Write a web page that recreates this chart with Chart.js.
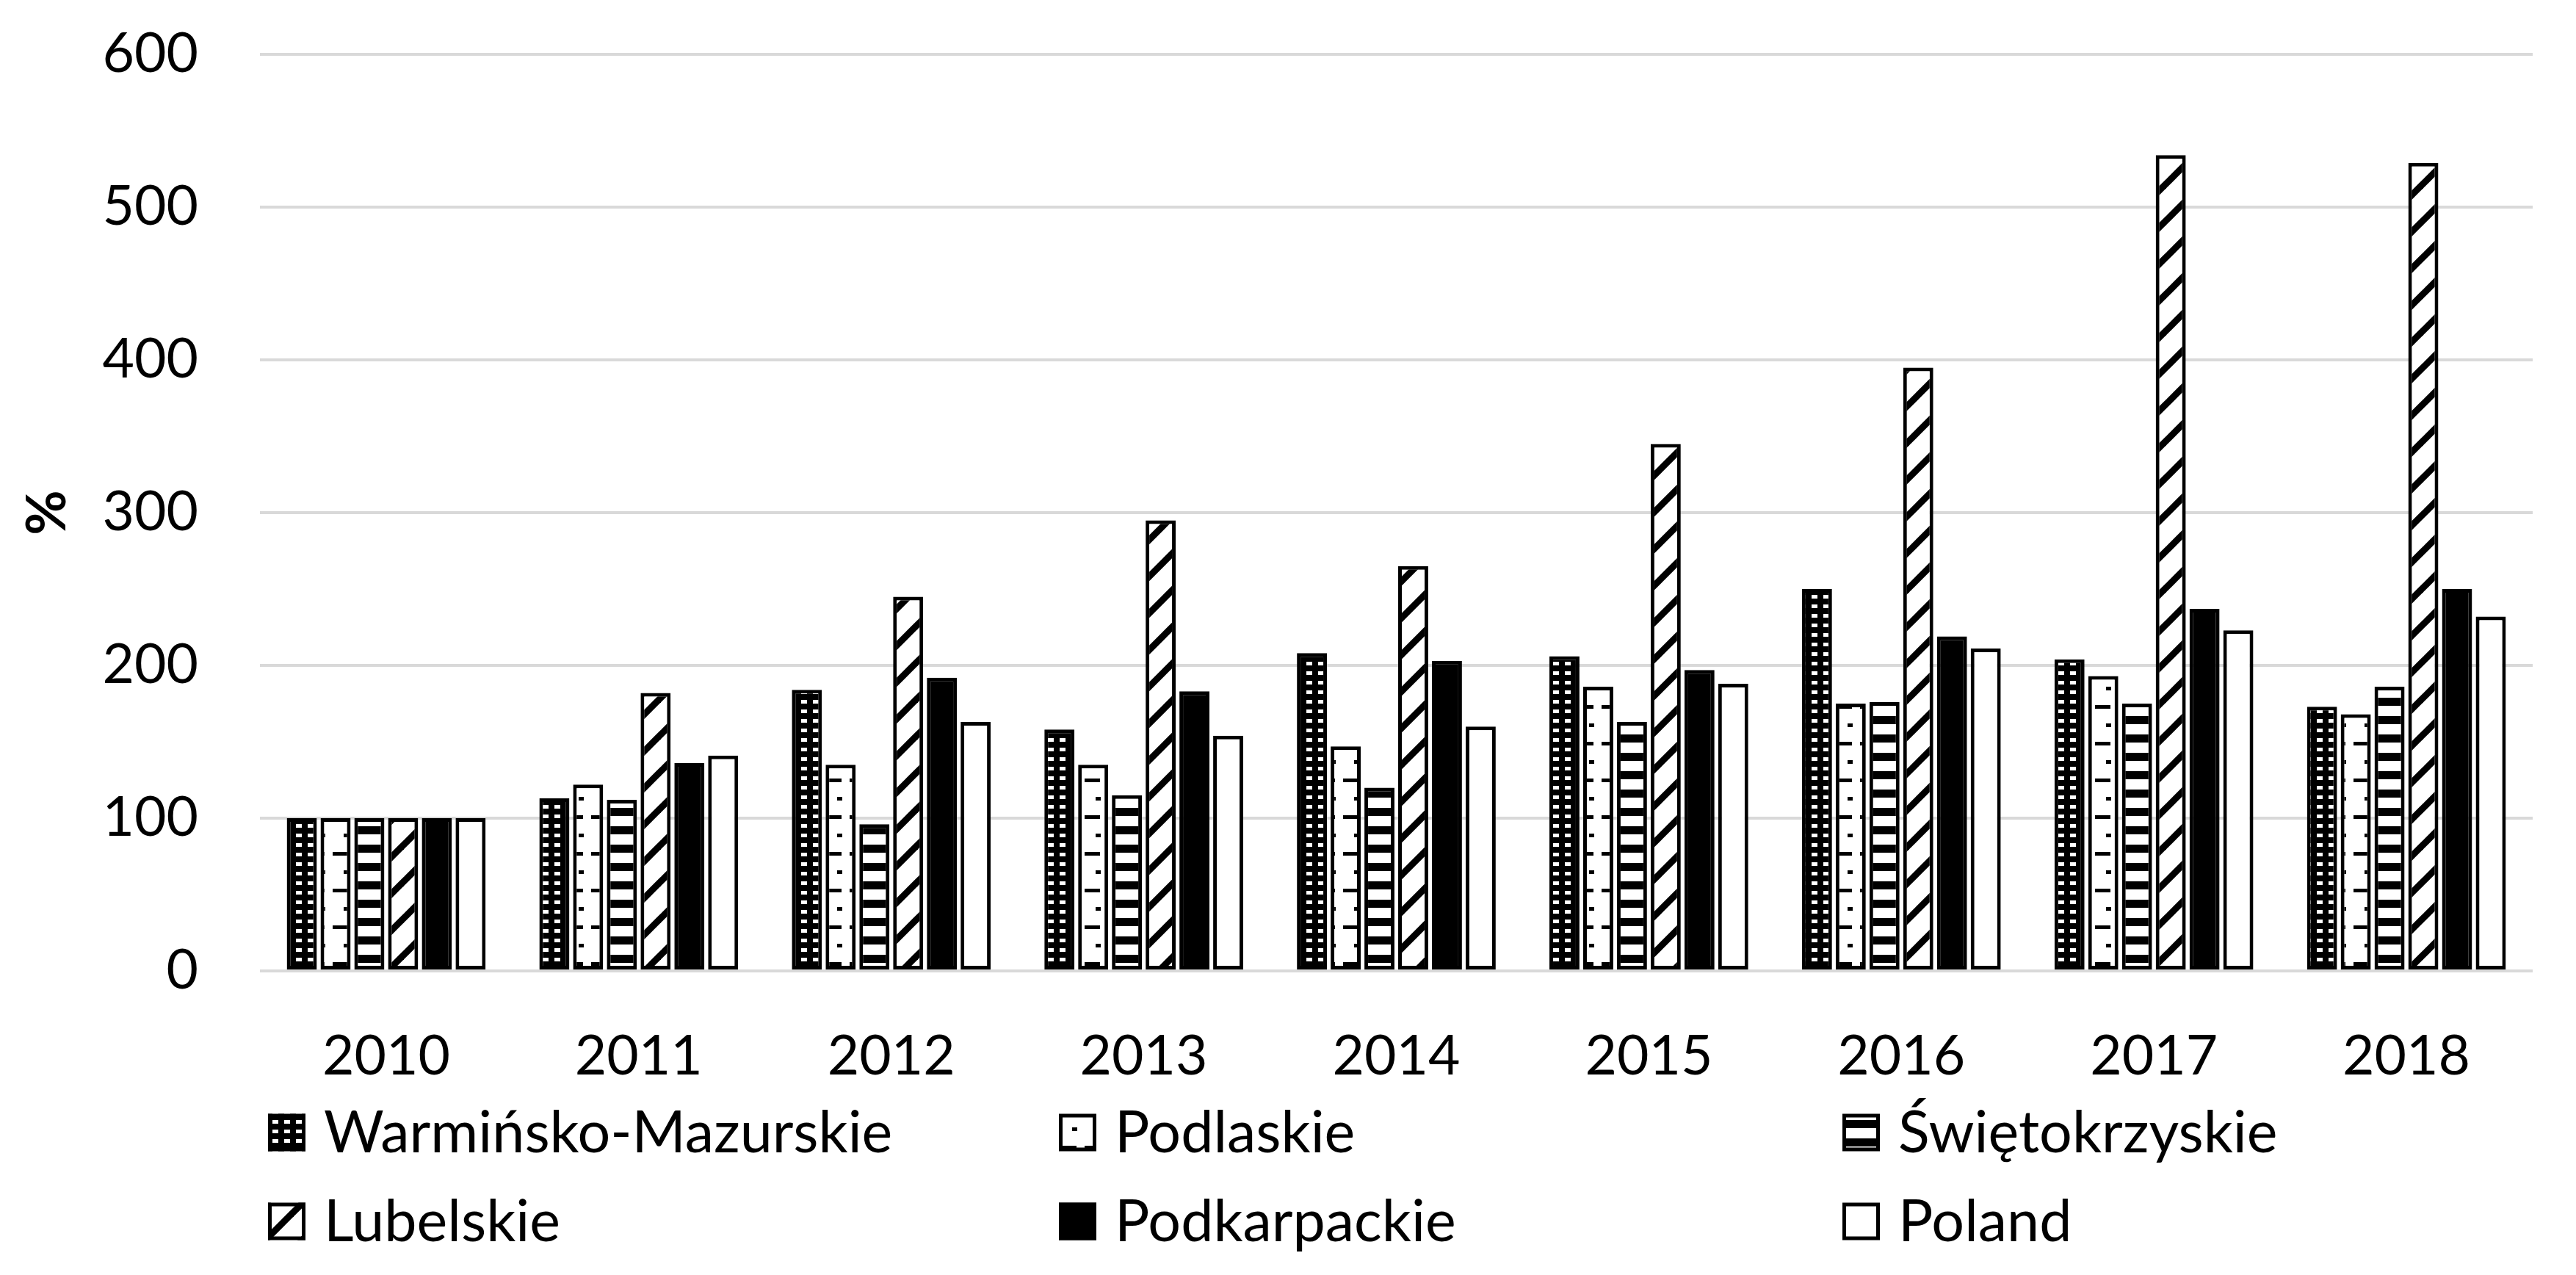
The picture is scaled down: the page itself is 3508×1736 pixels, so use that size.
<!DOCTYPE html>
<html>
<head>
<meta charset="utf-8">
<script src="https://cdn.jsdelivr.net/npm/chart.js@4"></script>
<style>
  html, body { margin: 0; padding: 0; background: #fff; }
  #wrap { width: 3508px; height: 1736px; }
</style>
</head>
<body>
<div id="wrap"><canvas id="chart"></canvas></div>
<script>
const years = ['2010', '2011', '2012', '2013', '2014', '2015', '2016', '2017', '2018'];
const yTicks = [0, 100, 200, 300, 400, 500, 600];

const warminsko = [100, 113, 184, 158, 208, 206, 250, 204, 173];
const podlaskie = [100, 122, 135, 135, 147, 186, 175, 193, 168];
const swietokrzyskie = [100, 112, 96, 115, 120, 163, 176, 175, 186];
const lubelskie = [100, 182, 245, 295, 265, 345, 395, 534, 529];
const podkarpackie = [100, 136, 192, 183, 203, 197, 219, 237, 250];
const poland = [100, 141, 163, 154, 160, 188, 211, 223, 232];

const FONT = 'Lato';

// small repeating tiles for the black & white fills
function tile(w, h, draw) {
    const c = document.createElement('canvas');
    c.width = w;
    c.height = h;
    const g = c.getContext('2d');
    draw(g, w, h);
    return g.createPattern(c, 'repeat');
}

const dotsFill = tile(16, 13, (g, w, h) => {
    g.fillStyle = '#000';
    g.fillRect(0, 0, w, h);
    g.fillStyle = '#fff';
    g.fillRect(3, 4, 8, 5);
});

const rulerFill = tile(32, 50, (g, w, h) => {
    g.fillStyle = '#fff';
    g.fillRect(0, 0, w, h);
    g.fillStyle = '#000';
    g.fillRect(5, 10, 21, 5);
    g.fillRect(20, 35, 7, 5);
});

const stripeFill = tile(4, 25, (g, w, h) => {
    g.fillStyle = '#fff';
    g.fillRect(0, 0, w, h);
    g.fillStyle = '#000';
    g.fillRect(0, 0, w, 11);
});

const diagFill = tile(50, 50, (g, w, h) => {
    g.fillStyle = '#fff';
    g.fillRect(0, 0, w, h);
    g.strokeStyle = '#000';
    g.lineWidth = 9;
    for (const o of [-50, 0, 50]) {
        g.beginPath();
        g.moveTo(o - 5, h + 5);
        g.lineTo(o + w + 5, -5);
        g.stroke();
    }
});

// legend laid out as a 3-column grid under the axis
const gridLegend = {
    id: 'gridLegend',
    afterDraw(chart, args, opts) {
        const ctx = chart.ctx;
        const top = chart.scales.x.bottom;
        ctx.save();
        ctx.font = opts.size + 'px ' + FONT;
        ctx.textBaseline = 'alphabetic';
        chart.data.datasets.forEach((ds, i) => {
            const x = opts.cols[i % 3];
            const y = top + opts.rows[Math.floor(i / 3)];
            const s = opts.box;
            ctx.fillStyle = ds.backgroundColor;
            ctx.fillRect(x, y - s / 2, s, s);
            ctx.lineWidth = 5;
            ctx.strokeStyle = '#000';
            ctx.strokeRect(x + 2.5, y - s / 2 + 2.5, s - 5, s - 5);
            ctx.fillStyle = '#000';
            ctx.fillText(ds.label, x + opts.gap, y + 27);
        });
        ctx.restore();
    }
};

function bars(label, values, fill) {
    return {
        label: label,
        data: values,
        backgroundColor: fill,
        borderColor: '#000',
        borderWidth: 5,
        borderSkipped: false,
        categoryPercentage: 0.802,
        barPercentage: 0.89
    };
}

new Chart('chart', {
    type: 'bar',
    data: {
        labels: years,
        datasets: [
            bars('Warmińsko-Mazurskie', warminsko, dotsFill),
            bars('Podlaskie', podlaskie, rulerFill),
            bars('Świętokrzyskie', swietokrzyskie, stripeFill),
            bars('Lubelskie', lubelskie, diagFill),
            bars('Podkarpackie', podkarpackie, '#000'),
            bars('Poland', poland, '#fff')
        ]
    },
    plugins: [gridLegend],
    options: {
        responsive: true,
        maintainAspectRatio: false,
        devicePixelRatio: 1,
        animation: false,
        layout: {
            padding: { top: 74, right: 59, bottom: 249, left: 0 }
        },
        plugins: {
            legend: { display: false },
            tooltip: { enabled: false },
            gridLegend: { cols: [365, 1442, 2509], rows: [55, 176], box: 51, gap: 76, size: 79 }
        },
        scales: {
            x: {
                grid: { display: false, drawTicks: false },
                border: { display: false },
                ticks: {
                    color: '#000',
                    padding: 72,
                    font: { family: FONT, size: 75 }
                },
                afterFit(axis) { axis.height = 165; }
            },
            y: {
                min: 0,
                max: 600,
                afterBuildTicks(axis) { axis.ticks = yTicks.map(v => ({ value: v })); },
                grid: { color: '#d9d9d9', lineWidth: 4, drawTicks: false },
                border: { display: false },
                ticks: {
                    color: '#000',
                    padding: 84,
                    font: { family: FONT, size: 75 }
                },
                title: {
                    display: true,
                    text: '%',
                    color: '#000',
                    padding: { top: 20, bottom: 0 },
                    font: { family: FONT, size: 75, weight: 'bold', lineHeight: 1.2 }
                },
                afterFit(axis) {
                    axis.width = 354;
                    // label overhang is already covered by the layout padding
                    axis.paddingTop = 0;
                    axis.paddingBottom = 0;
                }
            }
        }
    }
});
</script>
</body>
</html>
